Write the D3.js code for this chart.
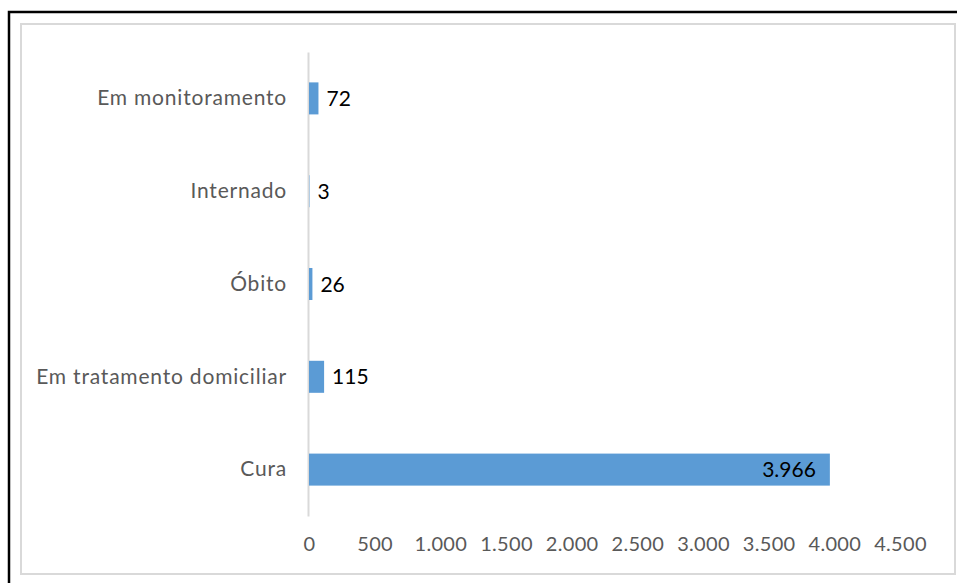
<!DOCTYPE html>
<html>
<head>
<meta charset="utf-8">
<script src="https://cdn.jsdelivr.net/npm/d3@7"></script>
<style>
  body { margin: 0; background: #fff; }
  text { font-family: Lato, "Open Sans", sans-serif; }
</style>
</head>
<body>
<svg id="chart"></svg>
<script>
// categories from top to bottom, as in the picture
var categories = ["Em monitoramento", "Internado", "Óbito", "Em tratamento domiciliar", "Cura"];
var values = [72, 3, 26, 115, 3966];
var ticks = [0, 500, 1000, 1500, 2000, 2500, 3000, 3500, 4000, 4500];

var width = 957, height = 583;
var plot = {left: 309, right: 900, top: 52, bottom: 516};

var svg = d3.select("#chart")
  .attr("width", width)
  .attr("height", height);

// outer black frame and inner grey chart border
svg.append("rect")
  .attr("x", 9).attr("y", 12)
  .attr("width", 980).attr("height", 620)
  .attr("fill", "none")
  .attr("stroke", "#000")
  .attr("stroke-width", 2.5);

svg.append("rect")
  .attr("x", 21).attr("y", 24)
  .attr("width", 934).attr("height", 550)
  .attr("fill", "#fff")
  .attr("stroke", "#d9d9d9")
  .attr("stroke-width", 2);

// number format with dot as thousands separator
var fmt = d3.formatLocale({decimal: ",", thousands: ".", grouping: [3], currency: ["R$", ""]}).format(",");

var x = d3.scaleLinear().domain([0, 4500]).range([plot.left, plot.right]);
var y = d3.scaleBand().domain(categories).range([plot.top, plot.bottom])
  .paddingInner(0.655).paddingOuter(0.3275);

// x axis: labels only
var xAxis = svg.append("g")
  .attr("transform", "translate(0," + (plot.bottom + 21) + ")")
  .call(d3.axisBottom(x).tickValues(ticks).tickFormat(fmt).tickSize(0).tickPadding(0));
xAxis.select(".domain").remove();
xAxis.selectAll("text")
  .attr("fill", "#595959")
  .style("font-size", "20px")
  .style("letter-spacing", "0.3px")
  .attr("dy", "0.71em");

// y axis: grey line plus category names
var yAxis = svg.append("g")
  .attr("transform", "translate(" + (plot.left - 1) + ",0)")
  .call(d3.axisLeft(y).tickSize(0).tickPadding(21));
yAxis.select(".domain")
  .attr("stroke", "#d9d9d9")
  .attr("stroke-width", 2);
yAxis.selectAll("text")
  .attr("fill", "#595959")
  .style("font-size", "21px")
  .style("letter-spacing", "0.8px");

// bars
svg.selectAll("rect.bar")
  .data(values)
  .enter().append("rect")
  .attr("class", "bar")
  .attr("x", x(0))
  .attr("y", function(d, i) { return y(categories[i]); })
  .attr("width", function(d) { return x(d) - x(0); })
  .attr("height", y.bandwidth())
  .attr("fill", "#5b9bd5");

// value labels: inside end for the long bar, outside otherwise
svg.selectAll("text.val")
  .data(values)
  .enter().append("text")
  .attr("class", "val")
  .attr("x", function(d) { return d > 1000 ? x(d) - 14 : x(d) + 8; })
  .attr("y", function(d, i) { return y(categories[i]) + y.bandwidth() / 2; })
  .attr("dy", "0.36em")
  .attr("text-anchor", function(d) { return d > 1000 ? "end" : "start"; })
  .attr("fill", "#000")
  .style("font-size", "21px")
  .text(function(d) { return fmt(d); });
</script>
</body>
</html>
